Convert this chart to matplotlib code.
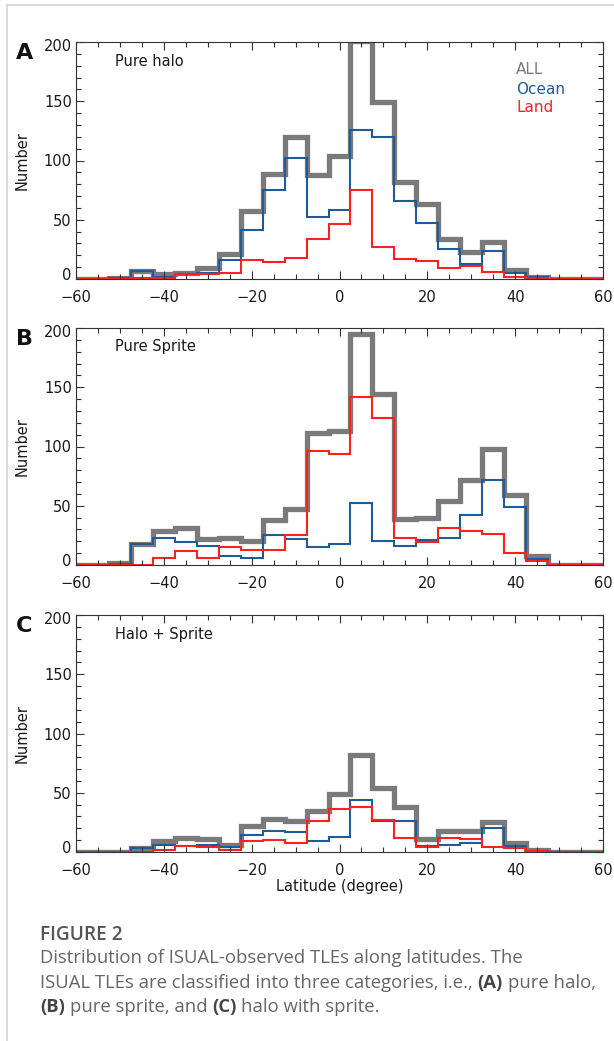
import matplotlib
matplotlib.use("Agg")
import matplotlib.pyplot as plt
import numpy as np
from matplotlib.ticker import MultipleLocator
from matplotlib.lines import Line2D
from matplotlib.transforms import ScaledTranslation

# latitude bins, 5 degree wide, centred on multiples of 5
lat_centers = [-60, -55, -50, -45, -40, -35, -30, -25, -20, -15, -10, -5, 0,
               5, 10, 15, 20, 25, 30, 35, 40, 45, 50, 55, 60]

# (A) pure halo
halo_all = [0, 0, 1, 7, 4, 5, 9, 21, 57, 89, 120, 88, 104, 201, 149, 82, 63, 34, 23, 31, 8, 2, 0, 0, 0]
halo_ocean = [0, 0, 1, 7, 2, 4, 5, 16, 41, 75, 102, 52, 58, 126, 120, 66, 47, 25, 13, 24, 5, 2, 0, 0, 0]
halo_land = [0, 0, 0, 1, 1, 4, 4, 5, 16, 14, 18, 34, 46, 75, 27, 17, 15, 9, 11, 6, 2, 1, 0, 0, 0]

# (B) pure sprite
sprite_all = [0, 0, 2, 18, 29, 31, 22, 23, 20, 38, 47, 111, 113, 195, 144, 39, 40, 54, 72, 98, 59, 8, 0, 0, 0]
sprite_ocean = [0, 0, 1, 18, 23, 19, 16, 8, 6, 25, 22, 15, 18, 52, 20, 16, 21, 23, 42, 72, 49, 5, 0, 0, 0]
sprite_land = [0, 0, 0, 0, 6, 12, 6, 15, 13, 13, 25, 96, 94, 142, 124, 23, 19, 31, 29, 26, 10, 3, 0, 0, 0]

# (C) halo + sprite
both_all = [0, 0, 0, 3, 9, 12, 11, 6, 22, 28, 26, 35, 49, 82, 54, 38, 11, 18, 18, 25, 8, 2, 0, 0, 0]
both_ocean = [0, 0, 0, 3, 6, 5, 6, 4, 14, 18, 17, 9, 13, 44, 26, 26, 5, 6, 8, 20, 5, 1, 0, 0, 0]
both_land = [0, 0, 0, 0, 2, 5, 4, 2, 9, 10, 8, 26, 36, 38, 27, 12, 4, 12, 11, 4, 3, 1, 0, 0, 0]

y_ticks = [0, 50, 100, 150, 200]
x_ticks = [-60, -40, -20, 0, 20, 40, 60]
panel_letters = ["A", "B", "C"]
panel_titles = ["Pure halo", "Pure Sprite", "Halo + Sprite"]
legend_labels = ["ALL", "Ocean", "Land"]

GRAY = "#7a7a7a"
BLUE = "#1f5b96"
RED = "#ff2020"

W, H = 614, 1041
fig = plt.figure(figsize=(W / 100, H / 100), dpi=100)


def px(x, y):
    # pixel position (from top-left) -> figure fraction
    return x / W, 1 - y / H


def draw_panel(ax, all_vals, ocean_vals, land_vals):
    c = np.array(lat_centers, dtype=float)
    edges = np.append(c - 2.5, c[-1] + 2.5)
    ax.stairs(all_vals, edges, baseline=None, color=GRAY, lw=3.8)
    ax.stairs(ocean_vals, edges, baseline=None, color=BLUE, lw=1.5)
    ax.stairs(land_vals, edges, baseline=None, color=RED, lw=1.5)

    ax.set_xlim(-60, 60)
    ax.set_ylim(0, 200)
    ax.set_xticks(x_ticks)
    ax.set_yticks(y_ticks)
    ax.xaxis.set_minor_locator(MultipleLocator(5))
    ax.yaxis.set_minor_locator(MultipleLocator(10))
    ax.tick_params(which="both", direction="in", top=True, right=True,
                   color="#333333", width=0.8, labelsize=10.5, labelcolor="#1a1a1a")
    ax.tick_params(axis="x", which="major", length=6, pad=8)
    ax.tick_params(axis="y", which="major", length=6, pad=3)
    ax.tick_params(which="minor", length=3.5)
    for s in ax.spines.values():
        s.set_color("#333333")
        s.set_linewidth(0.8)

    ax.set_ylabel("Number", fontsize=10.5, color="#1a1a1a")
    ax.yaxis.set_label_coords(-0.088, 0.5)

    # idl style: bottom label sits a little higher, top one a little lower
    labs = ax.get_yticklabels()
    labs[0].set_transform(labs[0].get_transform() + ScaledTranslation(0, 5 / 100, fig.dpi_scale_trans))
    labs[-1].set_transform(labs[-1].get_transform() + ScaledTranslation(0, -3 / 100, fig.dpi_scale_trans))


panels = [(halo_all, halo_ocean, halo_land),
          (sprite_all, sprite_ocean, sprite_land),
          (both_all, both_ocean, both_land)]
tops = [42, 328, 615]
axes = []
for i, (top, data) in enumerate(zip(tops, panels)):
    ax = fig.add_axes([76 / W, 1 - (top + 237) / H, 527 / W, 237 / H])
    draw_panel(ax, *data)
    axes.append(ax)
    fig.text(*px(16, top + 17), panel_letters[i], fontsize=16, fontweight="bold",
             va="baseline", ha="left", color="#111111")
    fig.text(*px(115, top + 19), panel_titles[i], fontsize=10.5, va="center",
             ha="left", color="#1a1a1a")

axes[2].set_xlabel("Latitude (degree)", fontsize=10.5, color="#1a1a1a")
axes[2].xaxis.set_label_coords(0.5, -0.115)

# colour key in panel A
for lab, col, y in zip(legend_labels, [GRAY, BLUE, RED], [70, 89, 107]):
    fig.text(*px(516, y), lab, fontsize=11, color=col, va="center", ha="left")

# page frame
fig.add_artist(Line2D([7 / W, 7 / W], [0, 1 - 5 / H], color="#d4d4d4", lw=1.2))
fig.add_artist(Line2D([7 / W, 1], [1 - 5 / H, 1 - 5 / H], color="#d4d4d4", lw=1.2))

# caption
CAP = "#666666"
CAP_B = "#444444"
cap_font = ["Open Sans", "DejaVu Sans"]
cap_size = 13.3
fig.text(*px(40, 935), "FIGURE 2", fontsize=13.8, fontweight="semibold",
         color="#555555", family=cap_font, va="center")

renderer = fig.canvas.get_renderer()


def text_w(s, bold=False):
    t = fig.text(0, 0, s, fontsize=cap_size, family=cap_font,
                 fontweight="bold" if bold else "normal")
    w = t.get_window_extent(renderer).width
    t.remove()
    return w


space = text_w("a a") - text_w("aa")


def rich_line(x, y, parts):
    for text, bold in parts:
        t = fig.text(*px(x, y), text, fontsize=cap_size, family=cap_font, va="center",
                     fontweight="bold" if bold else "normal", color=CAP_B if bold else CAP)
        x += t.get_window_extent(renderer).width + space


rich_line(40, 958, [("Distribution of ISUAL-observed TLEs along latitudes. The", False)])
rich_line(40, 983, [("ISUAL TLEs are classified into three categories, i.e.,", False),
                    ("(A)", True), ("pure halo,", False)])
rich_line(40, 1007, [("(B)", True), ("pure sprite, and", False), ("(C)", True),
                     ("halo with sprite.", False)])

fig.savefig("out.png", dpi=100)
